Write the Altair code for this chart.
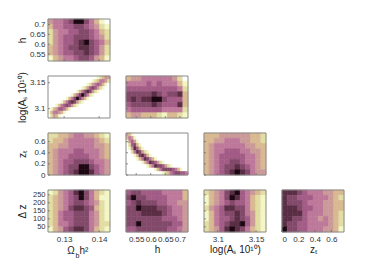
import altair as alt
import pandas as pd

LEVEL_COLORS = ["#ffffff", "#f3f6c6", "#e2dda2", "#d9b991", "#cb9a98", "#bd789a",
                "#a35c86", "#83496a", "#5a2e44", "#1c0712"]

OMEGA_RANGE = [0.1254, 0.1431]
H_RANGE = [0.515, 0.728]
AS_RANGE = [3.082, 3.163]
ZT_RANGE = [0.0, 0.755]
DZ_RANGE = [18.0, 280.0]

OMEGA_TICKS = [0.13, 0.14]
H_TICKS = [0.55, 0.6, 0.65, 0.7]
AS_TICKS = [3.1, 3.15]
ZT_TICKS = [0, 0.2, 0.4, 0.6]
DZ_TICKS = [50, 100, 150, 200, 250]

P_OMEGA_H = ["455679975310", "355667765421", "245566776532", "245667776542",
             "245667897653", "345677887642", "345667787642", "134556776431"]
P_OMEGA_AS = ["0" * 19 + "12344", "0" * 17 + "1235542", "0" * 15 + "124565310",
              "0" * 13 + "12467642100", "0" * 11 + "1357874210000", "0" * 9 + "135797521000000",
              "0" * 7 + "13579753100000000", "0" * 5 + "1357874210000000000",
              "000135676421" + "0" * 12, "013466531" + "0" * 15,
              "1355431" + "0" * 17, "02431" + "0" * 19]
P_H_AS = ["344555555420", "555565655531", "666666666652", "777778767783",
          "787889976663", "677778766683", "566666655552", "344333213321"]
P_OMEGA_ZT = ["223345544321", "233455555432", "334455555443", "345556655543",
              "345566665543", "345667776554", "345677997654", "345678998654"]
P_H_ZT = ["431" + "0" * 21, "3541" + "0" * 20, "14641" + "0" * 19, "026731" + "0" * 18,
          "0148631" + "0" * 17, "002587421" + "0" * 15, "0001378631" + "0" * 14,
          "000013587531" + "0" * 12, "0" * 6 + "135876421" + "0" * 9,
          "0" * 8 + "1358776421" + "0" * 6, "0" * 11 + "1357777653100",
          "0" * 14 + "1235677665"]
P_AS_ZT = ["333444444332", "334455544332", "345555554433", "345566655443",
           "345666665543", "345667765543", "345677876543", "345678987544"]
P_OMEGA_DZ = ["124568975321", "234567975311", "234567765421", "234578876321",
              "235667775421", "235667775421", "235567775422", "134678875321"]
P_H_DZ = ["677666655553", "797766665553", "678777665544", "779888776554",
          "777888876554", "777777766654", "779777777664", "667777776654"]
P_AS_DZ = ["234578965432", "134579865321", "134567665321", "245688775321",
           "135677875421", "135667876421", "235678896421", "234689875321"]
P_ZT_DZ = ["888765554433", "877666555432", "877765554433", "888766554433",
           "888865554432", "887765545432", "877665555432", "977665554431"]

PW, PH = 62, 42
FONT = "Liberation Sans"


def panel(rows, xr, yr, xt, yt, xtitle=None, ytitle=None, parts=None, ylabel_size=8):
    recs = []
    ny, nx = len(rows), len(rows[0])
    dx = (xr[1] - xr[0]) / nx
    dy = (yr[1] - yr[0]) / ny
    for j, row in enumerate(rows):
        for i, ch in enumerate(row):
            recs.append({"x": xr[0] + i * dx, "x2": xr[0] + (i + 1) * dx,
                         "y": yr[1] - j * dy, "y2": yr[1] - (j + 1) * dy,
                         "lvl": int(ch)})
    xaxis = None
    if xtitle is not None:
        xaxis = alt.Axis(values=xt, title=xtitle, labelExpr="'' + datum.value", tickSize=0,
                         domain=False, grid=False, labelFont=FONT, labelFontSize=8,
                         labelColor="#333", labelPadding=3, labelOverlap=False,
                         titleFont=FONT, titleFontSize=10, titleFontWeight="normal",
                         titleColor="#222", titlePadding=1)
    yaxis = None
    if ytitle:
        yaxis = alt.Axis(values=yt, title=ytitle, labelExpr="'' + datum.value", tickSize=0,
                         domain=False, grid=False, labelFont=FONT, labelFontSize=ylabel_size,
                         labelColor="#333", labelPadding=3, labelOverlap=False,
                         minExtent=40, maxExtent=40, titleX=-21,
                         titleFont=FONT, titleFontSize=10, titleFontWeight="normal",
                         titleColor="#222")
    xs = alt.Scale(domain=xr, nice=False, zero=False)
    ys = alt.Scale(domain=yr, nice=False, zero=False)
    lvl_scale = alt.Scale(domain=list(range(10)), range=LEVEL_COLORS)
    base = alt.Chart(pd.DataFrame(recs)).mark_rect(strokeWidth=0.6).encode(
        x=alt.X("x:Q", scale=xs, axis=xaxis),
        x2="x2:Q",
        y=alt.Y("y:Q", scale=ys, axis=yaxis),
        y2="y2:Q",
        color=alt.Color("lvl:O", scale=lvl_scale, legend=None),
        stroke=alt.Color("lvl:O", scale=lvl_scale, legend=None),
    )
    frame = alt.Chart(pd.DataFrame([{"a": xr[0], "a2": xr[1], "b": yr[0], "b2": yr[1]}])).mark_rect(
        fill=None, stroke="#8a8a8a", strokeWidth=1).encode(
        x=alt.X("a:Q", scale=xs, axis=xaxis), x2="a2:Q",
        y=alt.Y("b:Q", scale=ys, axis=yaxis), y2="b2:Q")
    xt_ticks = alt.Chart(pd.DataFrame({"t": xt})).mark_rule(color="#666", strokeWidth=0.7).encode(
        x=alt.X("t:Q", scale=xs, axis=xaxis), y=alt.value(PH - 2), y2=alt.value(PH))
    yt_ticks = alt.Chart(pd.DataFrame({"t": yt})).mark_rule(color="#666", strokeWidth=0.7).encode(
        y=alt.Y("t:Q", scale=ys, axis=yaxis), x=alt.value(0), x2=alt.value(2))
    layers = [base, frame, xt_ticks, yt_ticks]
    for text, size, px, py in (parts or []):
        layers.append(alt.Chart(pd.DataFrame({"s": [text]})).mark_text(
            font=FONT, fontSize=size, color="#222").encode(
            text="s:N", x=alt.value(px), y=alt.value(py)))
    return alt.layer(*layers).properties(width=PW, height=PH)


def blank():
    return alt.Chart(pd.DataFrame({"a": [0]})).mark_point(opacity=0).encode(
        x=alt.X("a:Q", axis=None), y=alt.Y("a:Q", axis=None)).properties(width=PW, height=PH)


OMEGA_TITLE = [("Ω", 10, 23, 61), ("b", 7, 29.5, 66), ("h²", 10, 36, 61)]

cells = [
    panel(P_OMEGA_H, OMEGA_RANGE, H_RANGE, OMEGA_TICKS, H_TICKS, ytitle="h"),
    blank(), blank(), blank(),
    panel(P_OMEGA_AS, OMEGA_RANGE, AS_RANGE, OMEGA_TICKS, AS_TICKS, ytitle="log(Aₛ 10¹⁰)"),
    panel(P_H_AS, H_RANGE, AS_RANGE, H_TICKS, AS_TICKS),
    blank(), blank(),
    panel(P_OMEGA_ZT, OMEGA_RANGE, ZT_RANGE, OMEGA_TICKS, ZT_TICKS, ytitle="zₜ"),
    panel(P_H_ZT, H_RANGE, ZT_RANGE, H_TICKS, ZT_TICKS),
    panel(P_AS_ZT, AS_RANGE, ZT_RANGE, AS_TICKS, ZT_TICKS),
    blank(),
    panel(P_OMEGA_DZ, OMEGA_RANGE, DZ_RANGE, OMEGA_TICKS, DZ_TICKS, xtitle="", ytitle="Δ z",
          parts=OMEGA_TITLE, ylabel_size=7.5),
    panel(P_H_DZ, H_RANGE, DZ_RANGE, H_TICKS, DZ_TICKS, xtitle="h"),
    panel(P_AS_DZ, AS_RANGE, DZ_RANGE, AS_TICKS, DZ_TICKS, xtitle="log(Aₛ 10¹⁰)"),
    panel(P_ZT_DZ, ZT_RANGE, DZ_RANGE, ZT_TICKS, DZ_TICKS, xtitle="zₜ"),
]

chart = alt.concat(*cells, columns=4, spacing={"row": 15, "column": 16}, bounds="flush").properties(
    padding={"left": 0, "top": 10, "right": 0, "bottom": 0}, background="white"
).configure_view(stroke=None)

chart.save("out.html", embed_options={"renderer": "svg", "actions": False})
